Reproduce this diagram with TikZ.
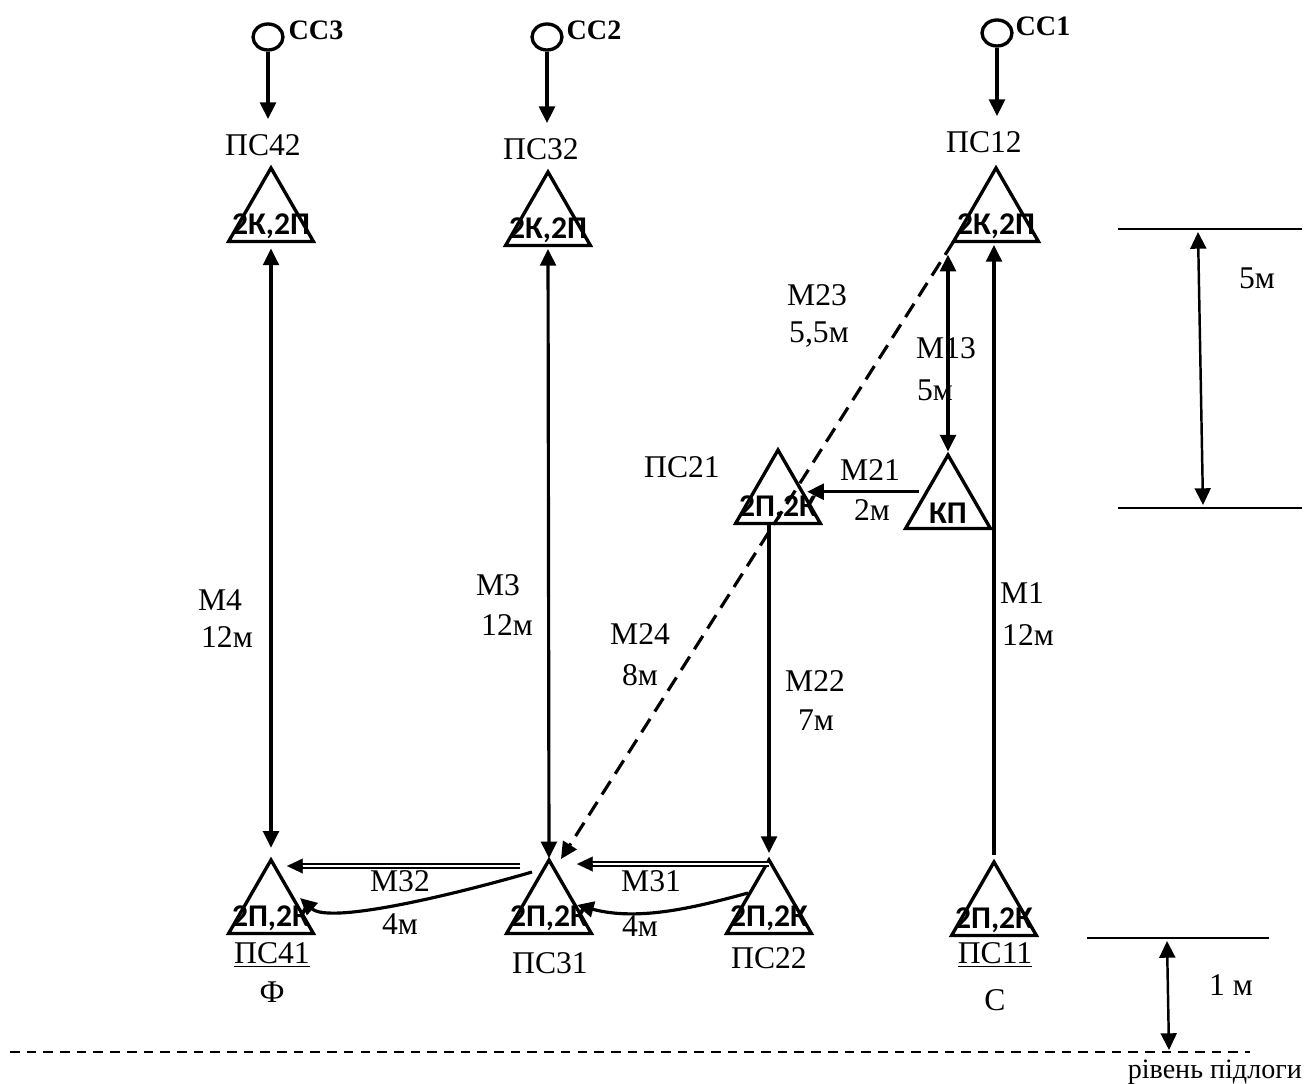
\documentclass[tikz,border=0pt]{standalone}
\usepackage{fontspec}
\setmainfont{Liberation Serif}
\newfontfamily\calibfont{Carlito}
\usetikzlibrary{arrows.meta,shapes.geometric}

\tikzset{
    tri/.style={draw, line width=1.9pt, regular polygon, regular polygon sides=3,
        minimum size=1.96cm, inner sep=0pt, outer sep=0pt,
        label={[trtext]center:#1}},
    trtext/.style={font=\calibfont\bfseries\fontsize{18}{18}\selectfont, inner sep=0pt, yshift=-5pt},
    lab/.style={font=\fontsize{18}{19}\selectfont, inner sep=1pt},
    cc/.style={draw, line width=1.9pt, ellipse, minimum width=0.6cm, minimum height=0.52cm, inner sep=0pt},
    cclab/.style={font=\bfseries\fontsize{16}{17}\selectfont, inner sep=0pt},
    arr/.style={line width=1.8pt, -{Triangle[length=9.5pt, width=9pt]}},
    darr/.style={line width=1.8pt, {Triangle[length=9.5pt, width=9pt]}-{Triangle[length=9.5pt, width=9pt]}},
    dline/.style={double, line width=1pt, double distance=1.5pt},
    dimline/.style={line width=0.6pt},
}

\begin{document}
\begin{tikzpicture}[x=0.02cm, y=-0.02cm]
    \useasboundingbox (0,0) rectangle (1307,1084);

    % sources
    \node[cc] (cc3) at (268,37) {};
    \node[cc] (cc2) at (547,37) {};
    \node[cc] (cc1) at (997,33) {};
    \node[cclab] (ccl3) at (316,30) {СС3};
    \node[cclab] (ccl2) at (594,30) {СС2};
    \node[cclab] (ccl1) at (1043,26) {СС1};

    % upper stations
    \node[lab] (l42) at (263,145) {ПС42};
    \node[lab] (l32) at (541,149) {ПС32};
    \node[lab] (l12) at (984,142) {ПС12};
    \node[tri=2К{,}2П] (ps42) at (271,217) {};
    \node[tri=2К{,}2П] (ps32) at (548,221) {};
    \node[tri=2К{,}2П] (ps12) at (996,217) {};

    % middle stations
    \node[lab] (l21) at (682,467) {ПС21};
    \node[tri=2П{,}2К] (ps21) at (778,499) {};
    \node[tri=КП] (kp) at (948,504) {};

    % lower stations
    \node[tri=2П{,}2К] (ps41) at (271,909) {};
    \node[tri=2П{,}2К] (ps31) at (549,909) {};
    \node[tri=2П{,}2К] (ps22) at (769,909) {};
    \node[tri=2П{,}2К] (ps11) at (994,911) {};
    \node[lab] (l41) at (272,955) {\underline{ПС41}};
    \node[lab] (f41) at (272,992) {Ф};
    \node[lab] (l31) at (550,963) {ПС31};
    \node[lab] (l22) at (769,958) {ПС22};
    \node[lab] (l11) at (995,955) {\underline{ПС11}};
    \node[lab] (c11) at (995,1000) {С};

    % feeds
    \draw[arr, shorten >=7.5pt] (cc3.south) -- (l42.north -| cc3.south);
    \draw[arr, shorten >=7.5pt] (cc2.south) -- (l32.north -| cc2.south);
    \draw[arr, shorten >=7.5pt] (cc1.south) -- (l12.north -| cc1.south);

    % routes
    \draw[darr, shorten <=4pt, shorten >=7pt] (ps42.south) -- (ps41.corner 1);
    \draw[darr, shorten <=2pt, shorten >=1pt] (ps32.south) -- (ps31.corner 1);
    \draw[arr, shorten <=4pt, shorten >=2pt] (ps11.corner 1) -- (ps11.corner 1 |- ps12.south);
    \draw[darr, shorten <=7.5pt, shorten >=2pt] (kp.corner 1 |- ps12.corner 2) -- (kp.corner 1);
    \draw[arr, shorten <=4.5pt, shorten >=4.5pt] (kp.side 1) -- (kp.side 1 -| ps21.side 3);
    \draw[arr, shorten >=4pt] (ps22.corner 1 |- ps21.south) -- (ps22.corner 1);
    \coordinate (m24end) at ([shift={(12,-1)}]ps31.corner 1);
    \draw[arr, dash pattern=on 9pt off 5pt] (ps12.corner 2) -- (m24end);
    \draw[dline] ([shift={(-29,6)}]ps31.corner 1) -- ([shift={(25,6)}]ps41.corner 1);
    \draw[line width=0.1pt, -{Triangle[length=9pt, width=8.5pt]}] ([shift={(25,6)}]ps41.corner 1) -- ([shift={(16,6)}]ps41.corner 1);
    \draw[dline] ([shift={(0,4)}]ps22.corner 1) -- ([shift={(37,4)}]ps31.corner 1);
    \draw[line width=0.1pt, -{Triangle[length=9pt, width=8.5pt]}] ([shift={(37,4)}]ps31.corner 1) -- ([shift={(28,4)}]ps31.corner 1);
    \draw[arr] ([shift={(-17,12)}]ps31.corner 1) .. controls (460,893) and (330,925) .. ([shift={(29,38)}]ps41.corner 1);
    \draw[arr] ([shift={(-21,33)}]ps22.corner 1) .. controls (700,906) and (640,922) .. ([shift={(28,45)}]ps31.corner 1);

    % route labels
    \node[lab] (m23) at (817,295) {М23};
    \node[lab] (m23v) at (819,335) {5,5м};
    \node[lab] (m13) at (946,348) {М13};
    \node[lab] (m13v) at (935,390) {5м};
    \node[lab] (m21) at (870,470) {М21};
    \node[lab] (m21v) at (872,510) {2м};
    \node[lab] (m4) at (220,600) {М4};
    \node[lab] (m4v) at (227,637) {12м};
    \node[lab] (m3) at (498,585) {М3};
    \node[lab] (m3v) at (507,625) {12м};
    \node[lab] (m24) at (640,634) {М24};
    \node[lab] (m24v) at (640,675) {8м};
    \node[lab] (m22) at (815,681) {М22};
    \node[lab] (m22v) at (816,720) {7м};
    \node[lab] (m1) at (1022,593) {М1};
    \node[lab] (m1v) at (1028,635) {12м};
    \node[lab] (m32) at (400,881) {М32};
    \node[lab] (m32v) at (400,924) {4м};
    \node[lab] (m31) at (651,881) {М31};
    \node[lab] (m31v) at (640,926) {4м};

    % dimensions
    \draw[dimline] (1118,229) -- (1302,229);
    \draw[dimline] (1118,508) -- (1302,508);
    \coordinate (d5a) at (1198,232);
    \coordinate (d5b) at (1203,505);
    \draw[darr, line width=1.4pt] (d5a) -- (d5b);
    \node[lab] (d5) at (1257,278) {5м};
    \draw[dimline] (1087,938) -- (1269,938);
    \coordinate (d1a) at (1167,941);
    \coordinate (d1b) at (1169,1050);
    \draw[darr, line width=1.4pt] (d1a) -- (d1b);
    \node[lab] (d1) at (1231,985) {1 м};

    % floor
    \draw[line width=1.2pt, dash pattern=on 5.5pt off 4pt] (10,1052) -- (1250,1052);
    \node[lab, anchor=east, font=\fontsize{16}{17}\selectfont] (floor) at (1304,1072) {рівень підлоги};
\end{tikzpicture}
\end{document}
